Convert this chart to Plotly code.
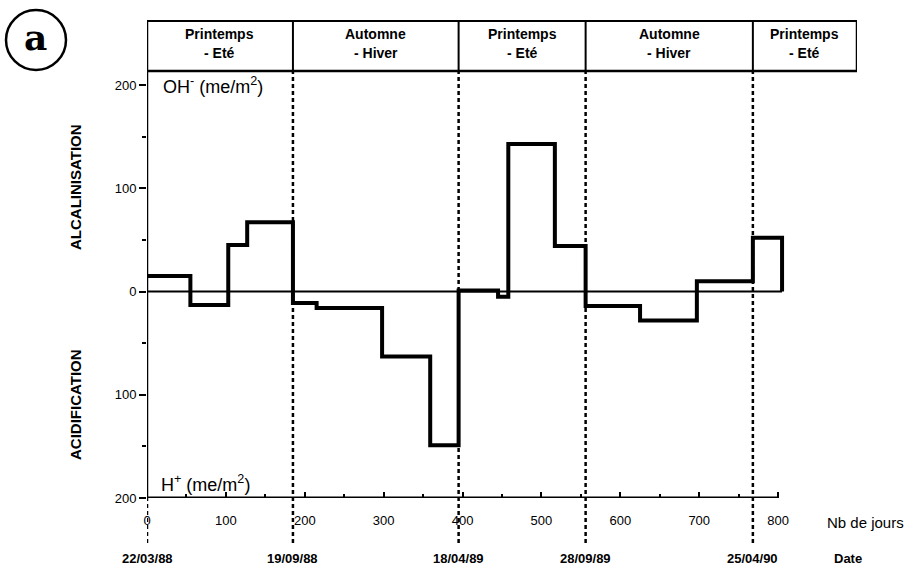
import plotly.graph_objects as go

# ---- data ----
edges = [0, 55, 103, 127, 185, 215, 298, 359, 395, 445, 458, 517, 556, 625, 697, 768, 805]
values = [15, -13, 45, 67, -11, -16, -63, -149, 1, -5, 143, 44, -14, -28, 10, 52]

season_bounds = [0, 185, 395, 556, 768, 900]
season_line1 = ["Printemps", "Automne", "Printemps", "Automne", "Printemps"]
season_line2 = ["- Eté", "- Hiver", "- Eté", "- Hiver", "- Eté"]

date_days = [0, 185, 395, 556, 768]
date_labels = ["22/03/88", "19/09/88", "18/04/89", "28/09/89", "25/04/90"]

x_ticks = [0, 100, 200, 300, 400, 500, 600, 700, 800]
x_minor = [50, 150, 250, 350, 450, 550, 650, 750]
y_ticks = [-200, -100, 0, 100, 200]
y_tick_text = ["200", "100", "0", "100", "200"]
y_minor = [-150, -50, 50, 150]

HEADER_BOTTOM = 213.6
Y_TOP = 263
FONT = "Liberation Sans, Arial, sans-serif"

L, R, T, B = 147, 857, 20, 498


def px(xp):
    return (xp - L) / (R - L)


def py(yp):
    return (B - yp) / (B - T)


# step path
xs = [edges[0]]
ys = [values[0]]
for i, v in enumerate(values):
    xs += [edges[i], edges[i + 1]]
    ys += [v, v]
xs.append(edges[-1])
ys.append(0)

fig = go.Figure()
fig.add_trace(go.Scatter(x=[0, edges[-1]], y=[0, 0], mode="lines",
                         line=dict(color="black", width=2), hoverinfo="skip"))
fig.add_trace(go.Scatter(x=xs, y=ys, mode="lines",
                         line=dict(color="black", width=4), hoverinfo="skip"))

shapes = []
shapes.append(dict(type="line", xref="x", yref="y", x0=0, x1=0, y0=-200, y1=HEADER_BOTTOM,
                   line=dict(color="black", width=2.5)))
shapes.append(dict(type="line", xref="x", yref="y", x0=0, x1=800, y0=-200, y1=-200,
                   line=dict(color="black", width=3)))
shapes.append(dict(type="rect", xref="x", yref="y", x0=season_bounds[0], x1=season_bounds[-1],
                   y0=HEADER_BOTTOM, y1=Y_TOP - 0.8, line=dict(color="black", width=2.5)))
for b in season_bounds[1:-1]:
    shapes.append(dict(type="line", xref="x", yref="y", x0=b, x1=b, y0=HEADER_BOTTOM, y1=Y_TOP,
                       line=dict(color="black", width=2)))
y_header_paper = (HEADER_BOTTOM + 200) / (Y_TOP + 200)
for d in date_days:
    top = y_header_paper if d > 0 else 0
    shapes.append(dict(type="line", xref="x", yref="paper", x0=d, x1=d, y0=py(543), y1=top,
                       line=dict(color="black", width=2.5, dash="4px,3px")))
shapes.append(dict(type="circle", xref="paper", yref="paper",
                   x0=px(6), x1=px(66), y0=py(70), y1=py(10),
                   line=dict(color="black", width=2.5)))

annotations = []


def ann(x, y, text, size, xref="paper", xanchor="center", family=FONT, angle=0):
    annotations.append(dict(x=x, y=y, xref=xref, yref="paper", text=text, showarrow=False,
                            xanchor=xanchor, yanchor="middle", textangle=angle,
                            font=dict(family=family, size=size, color="black")))


for i in range(len(season_line1)):
    cx = (season_bounds[i] + season_bounds[i + 1]) / 2
    ann(cx, py(34), "<b>%s</b>" % season_line1[i], 14, xref="x")
    ann(cx, py(53), "<b>%s</b>" % season_line2[i], 14, xref="x")
for d, lab in zip(date_days, date_labels):
    ann(d, py(558), "<b>%s</b>" % lab, 13, xref="x")
ann(px(825), py(522), "Nb de jours", 15, xanchor="left")
ann(px(832), py(558), "<b>Date</b>", 13, xanchor="left")
ann(18, py(85), "OH<sup>-</sup> (me/m<sup>2</sup>)", 18, xref="x", xanchor="left")
ann(15, py(483), "H<sup>+</sup> (me/m<sup>2</sup>)", 18, xref="x", xanchor="left")
ann(px(75), py(187), "<b>ALCALINISATION</b>", 15, angle=-90)
ann(px(75), py(405), "<b>ACIDIFICATION</b>", 15, angle=-90)
ann(px(36), py(37), "<b>a</b>", 36, family="DejaVu Serif, Liberation Serif, serif")

fig.update_layout(
    width=907, height=580,
    margin=dict(l=L, r=907 - R, t=T, b=580 - B),
    paper_bgcolor="white", plot_bgcolor="white",
    showlegend=False,
    shapes=shapes, annotations=annotations,
    xaxis=dict(range=[0, 900], showgrid=False, zeroline=False, showline=False,
               tickmode="array", tickvals=x_ticks, ticks="inside", ticklen=6, tickwidth=2,
               tickcolor="black", ticklabelstandoff=13,
               minor=dict(tickmode="array", tickvals=x_minor, ticks="inside", ticklen=4, tickwidth=2,
                          tickcolor="black", showgrid=False),
               tickfont=dict(family=FONT, size=13, color="black")),
    yaxis=dict(range=[-200, Y_TOP], showgrid=False, zeroline=False, showline=False,
               tickmode="array", tickvals=y_ticks, ticktext=y_tick_text, ticks="outside",
               ticklen=7, tickwidth=2, tickcolor="black",
               minor=dict(tickmode="array", tickvals=y_minor, ticks="outside", ticklen=4, tickwidth=2,
                          tickcolor="black", showgrid=False),
               tickfont=dict(family=FONT, size=13, color="black")),
)

fig.write_html("out.html", config={"displayModeBar": False},
               post_script="document.body.style.margin='0px';")
